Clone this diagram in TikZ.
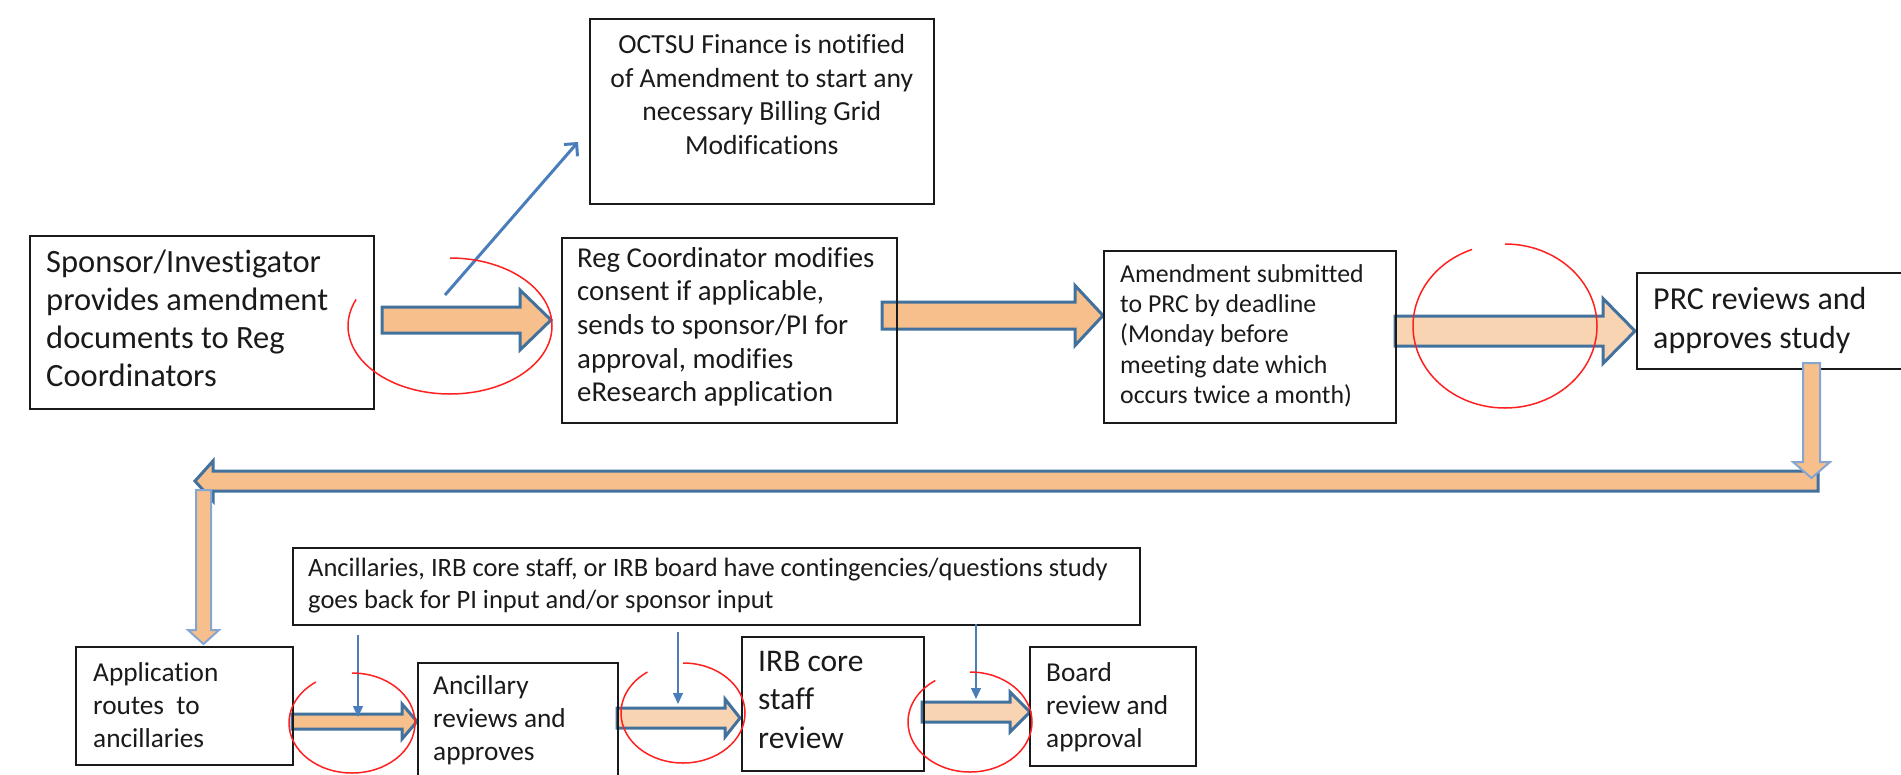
\documentclass[tikz,border=0pt]{standalone}
\usepackage{fontspec}
\setmainfont{Carlito}[Ligatures=NoCommon]
\usetikzlibrary{calc,arrows.meta}
\definecolor{fillA}{HTML}{F6BF8C}
\definecolor{fillB}{HTML}{F9D4B3}
\definecolor{edgeA}{HTML}{41719C}
\definecolor{edgeL}{HTML}{86A6D2}
\definecolor{thinB}{HTML}{4A7EBB}
\definecolor{ringR}{HTML}{FF2020}
\definecolor{inkT}{HTML}{1A1A1A}
\newcommand\fsz[2]{\fontsize{#1pt}{#2pt}\selectfont}
% right-pointing block arrow: style, start, tip, shaft half, head half, head length
\newcommand\blkR[6]{\draw[#1] ($(#2)+(0,-#4)$) -- ($(#3)+(-#6,-#4)$) -- ($(#3)+(-#6,-#5)$) -- (#3) -- ($(#3)+(-#6,#5)$) -- ($(#3)+(-#6,#4)$) -- ($(#2)+(0,#4)$) -- cycle;}
\newcommand\blkL[6]{\draw[#1] ($(#2)+(0,-#4)$) -- ($(#3)+(#6,-#4)$) -- ($(#3)+(#6,-#5)$) -- (#3) -- ($(#3)+(#6,#5)$) -- ($(#3)+(#6,#4)$) -- ($(#2)+(0,#4)$) -- cycle;}
\newcommand\blkD[6]{\draw[#1] ($(#2)+(-#4,0)$) -- ($(#3)+(-#4,-#6)$) -- ($(#3)+(-#5,-#6)$) -- (#3) -- ($(#3)+(#5,-#6)$) -- ($(#3)+(#4,-#6)$) -- ($(#2)+(#4,0)$) -- cycle;}
\begin{document}
\begin{tikzpicture}[x=1pt,y=-1pt,
  box/.style={draw=inkT, line width=1.6pt, rectangle, inner sep=0pt, anchor=north west},
  txt/.style={inner sep=0pt, anchor=north west, align=left, text=inkT},
  blockA/.style={fill=fillA, draw=edgeA, line width=3pt, line join=miter},
  blockB/.style={fill=fillB, draw=edgeA, line width=3pt, line join=miter},
  blockV/.style={fill=fillA, draw=edgeL, line width=2pt, line join=miter},
  thinarrow/.style={draw=thinB, line width=1.4pt, -{Triangle[length=11pt,width=10pt]}},
  diagarrow/.style={draw=thinB, line width=3pt, -{Straight Barb[length=9pt,width=18pt]}},
  ring/.style={draw=ringR, line width=1.5pt}
]
\useasboundingbox (0,0) rectangle (1901,774);

% ---- connector end points
\coordinate (a1s) at (382,320);  \coordinate (a1e) at (551,320);
\coordinate (a2s) at (882,315.5);\coordinate (a2e) at (1103,315.5);
\coordinate (a3s) at (1395,331); \coordinate (a3e) at (1635,331);
\coordinate (lgs) at (1818,481); \coordinate (lge) at (195,481);
\coordinate (d1s) at (1811.5,363); \coordinate (d1e) at (1811.5,478);
\coordinate (d2s) at (203.5,490); \coordinate (d2e) at (203.5,644);
\coordinate (a4s) at (292,721.5); \coordinate (a4e) at (417,721.5);
\coordinate (a5s) at (617,718);   \coordinate (a5e) at (740,718);
\coordinate (a6s) at (922,712);   \coordinate (a6e) at (1030,712);
\coordinate (dgs) at (445,295);   \coordinate (dge) at (578,142);
\coordinate (t1s) at (358,635);   \coordinate (t1e) at (358,717);
\coordinate (t2s) at (678,632);   \coordinate (t2e) at (678,704);
\coordinate (t3s) at (976,624);   \coordinate (t3e) at (976,699);

% ---- block arrows
\blkR{blockA}{a1s}{a1e}{13}{30}{31}
\blkR{blockA}{a2s}{a2e}{13.5}{30}{28}
\blkR{blockB}{a3s}{a3e}{15}{32.5}{32}
\blkL{blockA}{lgs}{lge}{10}{20}{18}
\blkD{blockV}{d2s}{d2e}{7.5}{15.5}{14}
\blkR{blockA}{a4s}{a4e}{7.5}{17.5}{15}
\blkR{blockB}{a5s}{a5e}{10}{19}{15}
\blkR{blockB}{a6s}{a6e}{10}{20}{20}

% ---- boxes
\node[box, minimum width=344pt, minimum height=185pt] (oct)    at (589,18) {};
\node[box, minimum width=344pt, minimum height=173pt] (spons)  at (29,235) {};
\node[box, minimum width=335pt, minimum height=185pt] (reg)    at (561,237) {};
\node[box, minimum width=292pt, minimum height=172pt] (amend)  at (1103,250) {};
\node[box, minimum width=280pt, minimum height=96pt]  (prc)    at (1636,272) {};
\node[box, minimum width=217pt, minimum height=118pt] (app)    at (75,646) {};
\node[box, minimum width=200pt, minimum height=130pt] (anc)    at (417,662) {};
\node[box, minimum width=182pt, minimum height=134pt] (irb)    at (741,636) {};
\node[box, minimum width=166pt, minimum height=119pt] (board)  at (1029,646) {};
\node[box, minimum width=847pt, minimum height=77pt]  (cont)   at (292,547) {};

\blkD{blockV}{d1s}{d1e}{8.5}{18.5}{16}

% ---- texts
\node[txt, anchor=north, align=center, font=\fsz{27.6}{33.8}] (octt) at ($(oct.north)+(0,16)$)
  {OCTSU Finance is notified\\of Amendment to start any\\necessary Billing Grid\\Modifications};
\node[txt, font=\fsz{32.5}{38}] (sponst) at ($(spons.north west)+(17,15)$)
  {Sponsor/Investigator\\provides amendment\\documents to Reg\\Coordinators};
\node[txt, font=\fsz{28.8}{33.6}] (regt) at ($(reg.north west)+(16,10)$)
  {Reg Coordinator modifies\\consent if applicable,\\sends to sponsor/PI for\\approval, modifies\\eResearch application};
\node[txt, font=\fsz{25.8}{30.4}] (amendt) at ($(amend.north west)+(17,14)$)
  {Amendment submitted\\to PRC by deadline\\(Monday before\\meeting date which\\occurs twice a month)};
\node[txt, font=\fsz{32}{39}] (prct) at ($(prc.north west)+(17,15)$)
  {PRC reviews and\\approves study};
\node[txt, font=\fsz{27.3}{33}] (appt) at ($(app.north west)+(18,16)$)
  {Application\\routes~~to\\ancillaries};
\node[txt, font=\fsz{27.3}{33}] (anct) at ($(anc.north west)+(16,13)$)
  {Ancillary\\reviews and\\approves};
\node[txt, font=\fsz{31.5}{38.5}] (irbt) at ($(irb.north west)+(17,15)$)
  {IRB core\\staff\\review};
\node[txt, font=\fsz{27.3}{33}] (boardt) at ($(board.north west)+(17,16)$)
  {Board\\review and\\approval};
\node[txt, font=\fsz{26.5}{31.5}] (contt) at ($(cont.north west)+(16,11)$)
  {Ancillaries, IRB core staff, or IRB board have contingencies/questions study\\goes back for PI input and/or sponsor input};

% ---- thin arrows
\draw[diagarrow] (dgs) -- (dge);
\draw[thinarrow] (t1s) -- (t1e);
\draw[thinarrow] (t2s) -- (t2e);
\draw[thinarrow] (t3s) -- (t3e);

% ---- red rings
\draw[ring] (450,258) arc[start angle=-90, end angle=203, x radius=102, y radius=68];
\draw[ring] (1505,244) arc[start angle=-90, end angle=249, x radius=92, y radius=82];
\draw[ring] (352,673) arc[start angle=-90, end angle=235, x radius=63, y radius=50];
\draw[ring] (683,663) arc[start angle=-90, end angle=235, x radius=62, y radius=50];
\draw[ring] (970,672) arc[start angle=-90, end angle=236, x radius=62, y radius=50];
\end{tikzpicture}
\end{document}
